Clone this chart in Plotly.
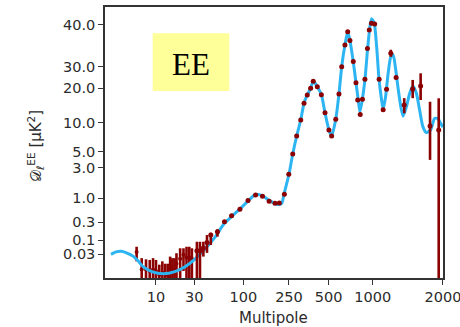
import numpy as np
import plotly.graph_objects as go

# ---------------- data ----------------
# theory (best-fit) EE spectrum, D_ell in muK^2
theory_ell = [2, 2.4, 2.9, 3.4, 4.4, 5.3, 6.3, 8.6, 12.3, 17.2, 23.0, 30.5, 39, 50, 62, 76, 92,
              110, 124, 134, 148, 168, 189, 205, 217, 226, 239, 251, 267, 286, 307, 325, 344,
              365, 382, 410, 441, 469, 502, 524, 559, 588, 614, 646, 675, 699, 737, 769, 797,
              818, 849, 885, 924, 958, 984, 1016, 1040, 1064, 1092, 1109, 1136, 1165, 1196,
              1224, 1253, 1285, 1320, 1350, 1395, 1441, 1488, 1539, 1589, 1641, 1697, 1770,
              1841, 1901, 1952, 2000]
theory_D = [0.029, 0.036, 0.038, 0.034, 0.025, 0.0164, 0.0101, 0.0066, 0.0055, 0.0066, 0.0101,
            0.0195, 0.046, 0.12, 0.27, 0.41, 0.585, 0.87, 1.11, 1.15, 1.09, 0.90, 0.77, 0.73,
            0.79, 1.15, 1.71, 2.46, 4.65, 7.28, 10.56, 14.8, 17.5, 20.0, 22.9, 20.6, 17.5,
            12.2, 8.4, 7.28, 10.7, 17.8, 30.0, 34.8, 38.1, 35.9, 31.0, 22.2, 15.8, 12.4, 15.8,
            23.4, 34.0, 39.5, 41.7, 40.4, 34.4, 24.1, 15.8, 13.1, 16.9, 26.5, 32.1, 32.5, 29.1,
            20.0, 13.8, 11.4, 13.8, 18.1, 20.9, 18.1, 12.9, 9.1, 7.9, 8.4, 10.9, 10.9, 9.9, 9.0]

# low-ell (unbinned) measurements
lowl_ell = [5, 6, 7, 8, 9, 10, 11, 12, 13, 14, 15, 16, 17, 18, 20, 22, 24, 26, 28]
lowl_D = [0.036, 0.008, 0.008, 0.007, 0.008, 0.007, 0.005, 0.006, 0.005, 0.005, 0.010, 0.008,
          0.008, 0.013, 0.020, 0.028, 0.022, 0.022, 0.020]
lowl_err = [0.020, 0.013, 0.011, 0.011, 0.013, 0.011, 0.007, 0.010, 0.008, 0.008, 0.014, 0.013,
            0.013, 0.019, 0.029, 0.021, 0.034, 0.034, 0.029]

# binned measurements
bin_ell = [32, 34.5, 37.5, 41, 45, 53, 63, 75, 92, 110, 128, 147, 168, 189, 206, 228, 249, 267,
           286, 307, 325, 344, 365, 382, 410, 440, 469, 502, 524, 559, 588, 614, 646, 675, 699,
           737, 769, 790, 822, 851, 885, 921, 948, 981, 1020, 1066, 1109, 1147, 1196, 1260,
           1365, 1484, 1605, 1761, 1918]
bin_D = [0.040, 0.040, 0.050, 0.080, 0.136, 0.167, 0.309, 0.418, 0.576, 0.896, 1.126, 1.074,
         0.860, 0.778, 0.790, 1.154, 2.37, 4.65, 7.28, 10.56, 14.78, 17.47, 20.0, 22.8, 20.6,
         17.6, 12.2, 8.4, 7.28, 10.7, 17.8, 30.0, 34.8, 38.1, 35.9, 31.1, 22.2, 15.8, 11.8,
         16.0, 23.7, 34.0, 38.6, 40.4, 40.2, 23.7, 13.0, 19.6, 32.9, 24.5, 14.3, 19.7, 20.9,
         9.25, 8.4]
bin_err_plus = [0.046, 0.046, 0.036, 0.056, 0.021, 0.027, 0.02, 0, 0, 0, 0, 0, 0, 0, 0, 0, 0, 0,
                0, 0, 0, 0, 0, 0, 0, 0, 0, 0, 0, 0, 0, 0, 0, 0, 0, 0, 0, 0, 0, 0, 0, 0, 0, 0,
                0, 0, 0, 0, 0.8, 0.8, 2.1, 3.7, 5.6, 6.0, 7.95]
bin_err_minus = [0.06, 0.06, 0.026, 0.047, 0.071, 0.044, 0.02, 0, 0, 0, 0, 0, 0, 0, 0, 0, 0, 0,
                 0, 0, 0, 0, 0, 0, 0, 0, 0, 0, 0, 0, 0, 0, 0, 0, 0, 0, 0, 0, 0, 0, 0, 0, 0, 0,
                 0, 0, 0, 0, 0.8, 0.8, 2.2, 3.3, 5.1, 5.4, 9.0]

# tick labels
x_ticks = [10, 30, 100, 250, 500, 1000, 2000]
x_tick_text = ["10", "30", "100", "250", "500", "1000", "2000"]
y_ticks = [0.03, 0.1, 0.3, 1.0, 3.0, 5.0, 10.0, 20.0, 30.0, 40.0]
y_tick_text = ["0.03", "0.1", "0.3", "1.0", "3.0", "5.0", "10.0", "20.0", "30.0", "40.0"]

# ---------------- custom axis scales (value -> scale units) ----------------
X_ANCHOR_VAL = [2, 10, 30, 100, 250, 500, 1000, 2000]
X_ANCHOR_POS = [111, 156, 194.3, 243.3, 289, 328.7, 372.7, 443]
Y_ANCHOR_VAL = [0.003, 0.03, 0.1, 0.3, 1, 3, 5, 10, 20, 30, 40, 50]
Y_ANCHOR_POS = [280.8, 254, 240, 222.3, 198.3, 167.7, 151.7, 122.7, 88.3, 66.7, 24.7, -7.9]


def fx(v):
    v = np.asarray(v, float)
    return np.interp(np.log10(v), np.log10(X_ANCHOR_VAL), X_ANCHOR_POS)


def fy(v):
    v = np.asarray(v, float)
    return np.interp(np.log10(np.clip(v, 1e-6, None)), np.log10(Y_ANCHOR_VAL), Y_ANCHOR_POS)


def err_arrays(D, ep, em):
    D = np.asarray(D, float)
    ep = np.asarray(ep, float)
    em = np.asarray(em, float)
    ys = fy(D)
    up = fy(D + ep)
    lo = fy(D - em)
    return ys, (lo - ys), (ys - up)


RED = "#8b0000"
BLUE = "#2cb5f2"

fig = go.Figure()

ys, a_plus, a_minus = err_arrays(lowl_D, lowl_err, lowl_err)
fig.add_trace(go.Scatter(
    x=fx(lowl_ell), y=ys, mode="markers",
    marker=dict(size=4, color=RED),
    error_y=dict(type="data", array=a_plus, arrayminus=a_minus, color=RED,
                 thickness=2.6, width=0),
    showlegend=False, hoverinfo="skip"))

fig.add_trace(go.Scatter(
    x=fx(theory_ell), y=fy(theory_D), mode="lines",
    line=dict(color=BLUE, width=3, shape="spline", smoothing=0.6),
    showlegend=False, hoverinfo="skip"))

ys, a_plus, a_minus = err_arrays(bin_D, bin_err_plus, bin_err_minus)
fig.add_trace(go.Scatter(
    x=fx(bin_ell), y=ys, mode="markers",
    marker=dict(size=5, color=RED),
    error_y=dict(type="data", array=a_plus, arrayminus=a_minus, color=RED,
                 thickness=2.6, width=0),
    showlegend=False, hoverinfo="skip"))

TXT = "#2b2b2b"
axis_common = dict(showline=True, linecolor="#333333", linewidth=1.5, mirror=True,
                   ticks="outside", ticklen=5, tickwidth=1.2, tickcolor="#333333",
                   showgrid=False, zeroline=False, ticklabeloverflow="allow",
                   automargin=False,
                   tickfont=dict(family="DejaVu Sans", size=14.5, color=TXT))

fig.update_layout(
    width=460, height=327, autosize=False,
    margin=dict(l=105, r=17, t=7, b=49, autoexpand=False),
    paper_bgcolor="white", plot_bgcolor="white",
    xaxis=dict(range=[105, 443.05], tickmode="array", tickvals=fx(x_ticks),
               ticktext=x_tick_text, **axis_common),
    yaxis=dict(range=[278, 7], tickmode="array", tickvals=fy(y_ticks),
               ticktext=y_tick_text, **axis_common),
    shapes=[dict(type="rect", xref="paper", yref="paper",
                 x0=(152.7 - 105) / 338, x1=(229.3 - 105) / 338,
                 y0=(278 - 91) / 271, y1=(278 - 33.3) / 271,
                 fillcolor="#ffff99", line=dict(width=0), layer="above")],
    annotations=[
        dict(text="EE", xref="paper", yref="paper", x=(190.7 - 105) / 338,
             y=(278 - 64) / 271, xanchor="center", yanchor="middle", showarrow=False,
             font=dict(family="Liberation Serif", size=31, color="black")),
        dict(text="Multipole", xref="paper", yref="paper", x=(273.7 - 105) / 338,
             y=(278 - 318) / 271, xanchor="center", yanchor="middle", showarrow=False,
             font=dict(family="DejaVu Sans", size=15, color=TXT)),
        dict(text="𝒟<sub>ℓ</sub><sup>EE</sup> [μK<sup>2</sup>]", xref="paper", yref="paper",
             x=(36 - 105) / 338, y=(278 - 146) / 271, xanchor="center", yanchor="middle",
             textangle=-90, showarrow=False,
             font=dict(family="DejaVu Sans", size=15, color=TXT)),
    ],
)

fig.write_html("out.html")
